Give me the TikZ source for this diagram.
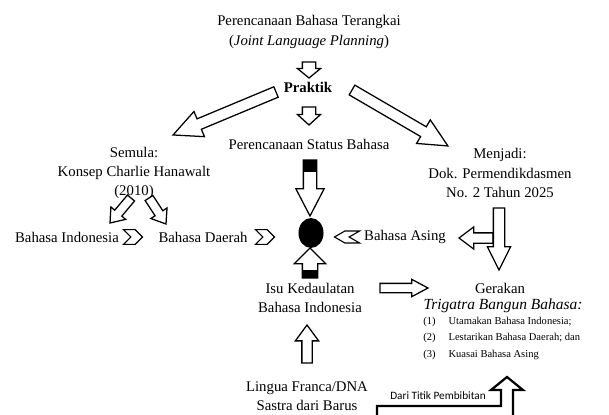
\documentclass[tikz,border=0pt]{standalone}
\usepackage{fontspec}
\setmainfont{Liberation Serif}
\newfontfamily\carlito{Carlito}
\usetikzlibrary{shapes.arrows,shapes.symbols,shapes.geometric,calc}

% block arrow: name, tail, tip, shaft width, head width, head length (all in px)
\newcommand{\blockarr}[6]{%
  \pgfmathsetmacro\shaftsep{#4*0.3557}%
  \pgfmathsetmacro\headext{(#5-#4)*0.3557}%
  \pgfmathsetmacro\tipang{2*atan((#5/2)/#6)}%
  \path let \p1=($(#3)-(#2)$), \n1={veclen(\x1,\y1)} in
    (#2) -- node[blk, pos=0, anchor=tail, minimum height=\n1,
      inner ysep=\shaftsep pt, single arrow head extend=\headext pt,
      single arrow tip angle=\tipang] (#1) {} (#3);%
}

\begin{document}
\begin{tikzpicture}[x=0.025cm, y=-0.025cm,
  txt/.style={font=\fontsize{10.5}{13.8}\selectfont, align=center, inner sep=0pt},
  blk/.style={single arrow, draw, fill=white, line width=0.9pt, sloped,
    allow upside down, inner xsep=0pt, outer sep=0pt},
  chev/.style={signal, draw, line width=0.8pt, inner sep=0pt},
]
\useasboundingbox (0,0) rectangle (609,414);

%texts
\node[txt] (title) at (309,32) {Perencanaan Bahasa Terangkai\\(\textit{Joint Language Planning})};
\node[txt, font=\fontsize{10.5}{13.8}\selectfont\bfseries] (praktik) at (308,87) {Praktik};
\node[txt] (status) at (309,144) {Perencanaan Status Bahasa};
\node[txt] (semula) at (134,173) {Semula:\\Konsep Charlie Hanawalt\\(2010)};
\node[txt] (menjadi) at (500,173) {Menjadi:\\Dok. Permendikdasmen\\No. 2 Tahun 2025};
\node[txt] (bindo) at (67,237) {Bahasa Indonesia};
\node[txt] (bdaerah) at (203,237) {Bahasa Daerah};
\node[txt] (basing) at (405,237) {Bahasa Asing};
\node[txt] (isu) at (310,298) {Isu Kedaulatan\\Bahasa Indonesia};
\node[txt] (gerakan) at (500,288) {Gerakan};
\node[txt, font=\fontsize{11}{13}\selectfont\itshape] (trigatra) at (503,306) {Trigatra Bangun Bahasa:};
\node[txt, font=\fontsize{7.5}{9}\selectfont, anchor=west] (item1) at (423,322) {\makebox[18pt][l]{(1)}Utamakan Bahasa Indonesia;};
\node[txt, font=\fontsize{7.5}{9}\selectfont, anchor=west] (item2) at (423,338) {\makebox[18pt][l]{(2)}Lestarikan Bahasa Daerah; dan};
\node[txt, font=\fontsize{7.5}{9}\selectfont, anchor=west] (item3) at (423,355) {\makebox[18pt][l]{(3)}Kuasai Bahasa Asing};
\node[txt] (lingua) at (307,396) {Lingua Franca/DNA\\Sastra dari Barus};

%center dot and chevrons
\node[ellipse, fill=black, inner sep=0pt, minimum width=17.8pt, minimum height=21.3pt] (dot) at (311,233) {};
\node[chev, signal to=east, signal from=west, minimum width=13.5pt, minimum height=10.5pt] (chevA) at (133,237) {};
\node[chev, signal to=east, signal from=west, minimum width=13.5pt, minimum height=10.5pt] (chevB) at (265,237) {};
\node[chev, signal to=west, signal from=east, signal pointer angle=60, minimum width=17.8pt, minimum height=8.5pt] (chevC) at (347,237) {};

%block arrows
\blockarr{arrTP}{309,62}{309,78}{12}{22}{9}
\blockarr{arrPS}{309,107}{309,125}{12}{22}{10}
\blockarr{arrSem}{276,92}{173,135}{10}{26}{27}
\blockarr{arrMen}{352,90}{448,146}{10}{26}{27}
\blockarr{arrSI}{131,198}{110,223}{8}{18}{12}
\blockarr{arrSD}{149,198}{166,224}{8}{18}{12}
\blockarr{arrDown}{310,160}{310,216}{12}{27}{26}
\fill (304,160) rectangle (316,172);
\blockarr{arrUp}{310,278}{310,248}{14}{30}{15}
\fill (303,270) rectangle (317,278);
\blockarr{arrAsing}{493,238}{459,238}{9}{21}{14}
\blockarr{arrGer}{499,208}{499,270}{10}{22}{22}
\blockarr{arrIsu}{380,288}{428,288}{8}{16}{15}
\blockarr{arrLing}{307,363}{307,325}{9}{22}{15}

%bent arrow at the bottom
\begin{scope}
\clip (0,0) rectangle (609,414);
\draw[line width=1.6pt, fill=white] (377,420) -- (377,406) -- (501,406) -- (501,390)
  -- (491,390) -- (507,377) -- (523,390) -- (513,390) -- (513,420) -- cycle;
\end{scope}
\node[txt, font=\carlito\fontsize{8}{10}\selectfont] (bibit) at (438,396) {Dari Titik Pembibitan};

\end{tikzpicture}
\end{document}
